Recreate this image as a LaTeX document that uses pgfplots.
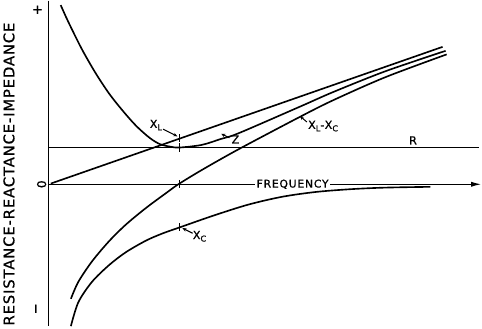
\documentclass[border=0pt]{standalone}
\usepackage{pgfplots}
\pgfplotsset{compat=1.18}
\usepackage{fontspec}
\usetikzlibrary{arrows.meta}
\newfontfamily\lab[LetterSpace=8, FakeBold=0.8]{DejaVu Sans}
\newfontfamily\ylab[LetterSpace=6, FakeBold=0.8]{DejaVu Sans}

% curves (x = frequency, y = ohms, arbitrary units)
\pgfplotstableread{
f      v
11.7   175.6
19     159.5
32.3   132.7
45.7   109.3
59     89.1
72.3   72.3
85.7   57.2
99     45.4
109    39.3
119    36.9
128    36
150    38.6
169    44.5
186    50
246    76
279    90.5
330    110.8
389    130.8
}\zdata
\pgfplotstableread{
f      v
21.7   -112.2
29     -95.6
42.3   -75.7
59     -55.9
75.7   -39.4
95.7   -22.9
115.7  -8.1
127    0
150    14
186    34.3
246    66
279    82.5
330    105
390    127.3
}\xlxcdata
\pgfplotstableread{
f      v
21.7   -139
29     -115.6
42.3   -95.7
59     -79.3
75.7   -66.5
95.7   -55
112    -48
129    -42
162    -30.5
196    -19.8
229    -12.2
262    -7.5
296    -4.8
329    -3.3
374    -2.5
}\xcdata

\begin{document}
\begin{tikzpicture}
\begin{axis}[
  scale only axis,
  width=482bp, height=328bp,
  xmin=-51, xmax=431,
  ymin=-140, ymax=188,
  axis lines=none,
  clip=false,
  cycle list={{black, mark=none}},
  every axis plot/.append style={line width=1.6bp},
]

% axes
\draw[line width=1.2bp] (axis cs:0,180) -- (axis cs:0,-139);
\draw[line width=1.2bp, -{Latex[length=10bp,width=5bp]}] (axis cs:0,0) -- (axis cs:424,0);

% R
\addplot[black, line width=1.2bp] coordinates {(0,36)(422,36)};
% X_L
\addplot[black] coordinates {(2,0.7)(386,134.7)};
% Z
\addplot[black, smooth] table[x=f, y=v] {\zdata};
% X_L - X_C
\addplot[black, smooth] table[x=f, y=v] {\xlxcdata};
% X_C
\addplot[black, smooth] table[x=f, y=v] {\xcdata};

% resonance ticks
\addplot[black, only marks, mark=|, mark size=4bp, mark options={line width=1.2bp}]
  coordinates {(128,45)(128,36)(128,0)(128,-42)};

\node[fill=white, inner xsep=1.5bp, inner ysep=0.3bp, font=\lab\fontsize{10.5}{11}\selectfont]
  at (axis cs:239,0) {FREQUENCY};

% y side
\node[rotate=90, font=\ylab\fontsize{14.5}{15}\selectfont] at (axis cs:-39,10)
  {RESISTANCE-REACTANCE-IMPEDANCE};
\node[rotate=90, font=\lab\fontsize{13}{14}\selectfont] at (axis cs:-11,171) {+};
\node[rotate=90, font=\lab\fontsize{12}{14}\selectfont] at (axis cs:-7,0) {0};
\node[rotate=90, font=\lab\fontsize{13}{14}\selectfont] at (axis cs:-11,-122) {−};

% curve labels
\node[font=\lab\fontsize{11}{12}\selectfont] at (axis cs:105,58)
  {X\raisebox{-0.4ex}{\fontsize{8}{9}\selectfont L}};
\draw[line width=1bp, -{Stealth[length=4bp,width=3.5bp]}] (axis cs:112,54) -- (axis cs:126,47);

\node[font=\lab\fontsize{11}{12}\selectfont] at (axis cs:183,44) {Z};
\draw[line width=1bp, -{Stealth[length=4bp,width=3.5bp]}] (axis cs:177,45.5) -- (axis cs:169,49.5);

\node[anchor=west, inner xsep=0pt, font=\lab\fontsize{11}{12}\selectfont] at (axis cs:254,57)
  {X\raisebox{-0.4ex}{\fontsize{8}{9}\selectfont L}-X\raisebox{-0.4ex}{\fontsize{8}{9}\selectfont C}};
\draw[line width=1bp, -{Stealth[length=4bp,width=3.5bp]}] (axis cs:253,61) -- (axis cs:246,67);

\node[font=\lab\fontsize{11}{12}\selectfont] at (axis cs:357,43) {R};

\node[anchor=west, inner xsep=0pt, font=\lab\fontsize{11}{12}\selectfont] at (axis cs:141,-51)
  {X\raisebox{-0.4ex}{\fontsize{8}{9}\selectfont C}};
\draw[line width=1bp, -{Stealth[length=4bp,width=3.5bp]}] (axis cs:141,-48) -- (axis cs:131,-43);

\end{axis}
\end{tikzpicture}
\end{document}
